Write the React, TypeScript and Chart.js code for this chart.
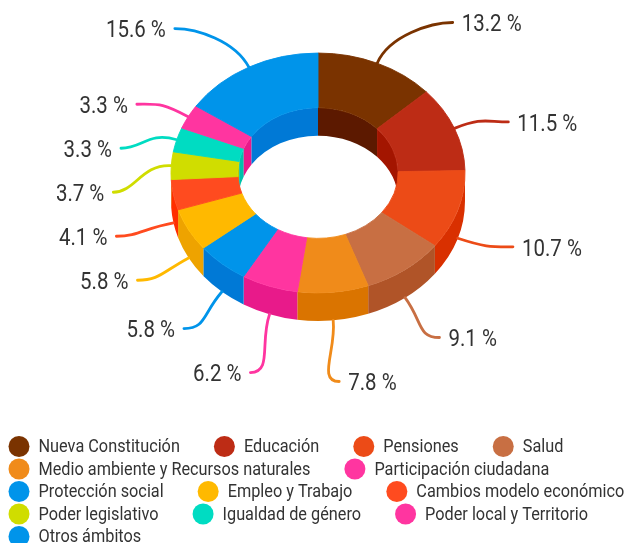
import React, { useEffect, useRef } from 'react';
import { Chart, registerables } from 'chart.js';

Chart.register(...registerables);

// ---------- data ----------
const CATEGORIES = [
  'Nueva Constitución',
  'Educación',
  'Pensiones',
  'Salud',
  'Medio ambiente y Recursos naturales',
  'Participación ciudadana',
  'Protección social',
  'Empleo y Trabajo',
  'Cambios modelo económico',
  'Poder legislativo',
  'Igualdad de género',
  'Poder local y Territorio',
  'Otros ámbitos',
];
const VALUES = [13.2, 11.5, 10.7, 9.1, 7.8, 6.2, 5.8, 5.8, 4.1, 3.7, 3.3, 3.3, 15.6];

// ---------- palette ----------
const TOP_COLORS = [
  '#7a3300', '#bd2c15', '#ec4b17', '#c86f43', '#f08b1a', '#ff35a0', '#0094ea',
  '#ffb900', '#ff4b1f', '#d0dd00', '#00dcc2', '#ff35a0', '#0094ea',
];
const SIDE_COLORS = [
  '#5c1900', '#a31500', '#d93000', '#b05428', '#da7400', '#e81a8a', '#0079d6',
  '#eea300', '#ff2e00', '#b4c000', '#00c2aa', '#e81a8a', '#0079d6',
];

// ---------- look ----------
const K = 0.816;      // vertical squash of the tilted ring
const DEPTH = 28;     // thickness of the ring
const FONT = 'Roboto, "Noto Sans", sans-serif';
const NARROW = 0.87;  // horizontal condensing of label text
const LEGEND_NARROW = 0.88;
const TEXT = '#333333';
const LABEL_GAP = 44; // minimum vertical distance between labels on one side

function narrowText(ctx: CanvasRenderingContext2D, text: string, x: number, y: number, align: CanvasTextAlign, sx: number) {
  ctx.save();
  ctx.translate(x, y);
  ctx.scale(sx, 1);
  ctx.textAlign = align;
  ctx.fillText(text, 0, 0);
  ctx.restore();
}

function strip(ctx: CanvasRenderingContext2D, x: number, y: number, r: number, s: number, e: number, color: string) {
  ctx.beginPath();
  ctx.ellipse(x, y, r, r * K, 0, s, e, false);
  ctx.ellipse(x, y + DEPTH, r, r * K, 0, e, s, true);
  ctx.closePath();
  ctx.fillStyle = color;
  ctx.fill();
}

const threeD = {
  id: 'threeD',
  beforeDatasetsDraw(chart: any) {
    const ctx: CanvasRenderingContext2D = chart.ctx;
    const meta = chart.getDatasetMeta(0);
    ctx.save();
    meta.data.forEach((arc: any, i: number) => {
      const p = arc.getProps(['x', 'y', 'startAngle', 'endAngle', 'outerRadius', 'innerRadius'], true);
      // outer wall: near half (0..PI)
      const s1 = Math.max(p.startAngle, 0);
      const e1 = Math.min(p.endAngle, Math.PI);
      if (e1 > s1) strip(ctx, p.x, p.y, p.outerRadius, s1, e1, SIDE_COLORS[i]);
      // inner wall: far half (-PI/2..0 and PI..3PI/2)
      const ranges = [[-Math.PI / 2, 0], [Math.PI, 1.5 * Math.PI]];
      ranges.forEach(([a, b]) => {
        const s2 = Math.max(p.startAngle, a);
        const e2 = Math.min(p.endAngle, b);
        if (e2 > s2) strip(ctx, p.x, p.y, p.innerRadius, s2, e2, SIDE_COLORS[i]);
      });
    });
    ctx.restore();
  },
  beforeDatasetDraw(chart: any, args: any) {
    const ctx: CanvasRenderingContext2D = chart.ctx;
    const a = args.meta.data[0];
    ctx.save();
    ctx.translate(a.x, a.y);
    ctx.scale(1, K);
    ctx.translate(-a.x, -a.y);
  },
  afterDatasetDraw(chart: any) {
    chart.ctx.restore();
  },
  afterDatasetsDraw(chart: any) {
    const ctx: CanvasRenderingContext2D = chart.ctx;
    const meta = chart.getDatasetMeta(0);
    // compute anchor + label positions
    const items = meta.data.map((arc: any, i: number) => {
      const p = arc.getProps(['x', 'y', 'startAngle', 'endAngle', 'outerRadius'], true);
      const mid = (p.startAngle + p.endAngle) / 2;
      const c = Math.cos(mid);
      const s = Math.sin(mid);
      const ro = p.outerRadius;
      const ax = p.x + ro * c;
      const ay = p.y + K * ro * s + (s > 0 ? DEPTH : 0);
      const side = c >= 0 ? 1 : -1;
      let ex = p.x + ro * 1.395 * c;
      const ey = p.y + ro * 0.116 + ro * 1.245 * s;
      const up = -s;
      if (up > 0.6) ex += side * ro * 0.45 * (up - 0.6) / 0.4;
      return { i, c, s, ax, ay, ex, ey, side };
    });
    // spread labels vertically on each side
    [1, -1].forEach((sd) => {
      const group = items.filter((it: any) => it.side === sd).sort((a: any, b: any) => a.ey - b.ey);
      for (let j = 1; j < group.length; j++) {
        if (group[j].ey < group[j - 1].ey + LABEL_GAP) group[j].ey = group[j - 1].ey + LABEL_GAP;
      }
    });
    ctx.save();
    ctx.font = `23.5px ${FONT}`;
    ctx.textBaseline = 'middle';
    items.forEach((it: any) => {
      const { i, c, s, ax, ay, ex, ey, side } = it;
      ctx.beginPath();
      ctx.moveTo(ax, ay);
      ctx.bezierCurveTo(ax + c * 30, ay + s * 30, ex - side * 22, ey, ex, ey);
      ctx.strokeStyle = TOP_COLORS[i];
      ctx.lineWidth = 2.8;
      ctx.lineCap = 'round';
      ctx.stroke();
      ctx.fillStyle = TEXT;
      narrowText(ctx, `${VALUES[i].toFixed(1)} %`, ex + side * 9, ey + 3, side > 0 ? 'left' : 'right', NARROW);
    });
    ctx.restore();
  },
};

const legendPlugin = {
  id: 'customLegend',
  afterDraw(chart: any) {
    const ctx: CanvasRenderingContext2D = chart.ctx;
    ctx.save();
    ctx.font = `18.5px ${FONT}`;
    ctx.textBaseline = 'middle';
    const R = 10.5;
    const startX = 8.5;
    const rowH = 22.5;
    const maxW = 640;
    let x = startX;
    let y = chart.height - 96.5;
    CATEGORIES.forEach((label, i) => {
      const tw = ctx.measureText(label).width * LEGEND_NARROW;
      const w = 2 * R + 9 + tw;
      if (x > startX && x + w > maxW) {
        x = startX;
        y += rowH;
      }
      ctx.beginPath();
      ctx.arc(x + R, y, R, 0, Math.PI * 2);
      ctx.fillStyle = TOP_COLORS[i];
      ctx.fill();
      ctx.fillStyle = TEXT;
      narrowText(ctx, label, x + 2 * R + 9, y + 1, 'left', LEGEND_NARROW);
      x += w + 34;
    });
    ctx.restore();
  },
};

const App = () => {
  const ref = useRef<HTMLCanvasElement>(null);
  useEffect(() => {
    const chart = new Chart(ref.current as HTMLCanvasElement, {
      type: 'doughnut',
      data: {
        labels: CATEGORIES,
        datasets: [
          {
            data: VALUES,
            backgroundColor: TOP_COLORS,
            borderColor: TOP_COLORS,
            borderWidth: 1,
          },
        ],
      },
      options: {
        animation: false,
        responsive: true,
        maintainAspectRatio: false,
        devicePixelRatio: 1,
        radius: 147,
        cutout: '54.5%',
        rotation: 0,
        events: [],
        layout: { padding: { left: 8, right: 0, top: 0, bottom: 197 } },
        plugins: { legend: { display: false }, tooltip: { enabled: false } },
      } as any,
      plugins: [threeD, legendPlugin],
    });
    return () => chart.destroy();
  }, []);
  return (
    <div style={{ position: 'absolute', left: 0, top: 0, width: 628, height: 543, background: '#ffffff' }}>
      <canvas ref={ref} />
    </div>
  );
};

export default App;
